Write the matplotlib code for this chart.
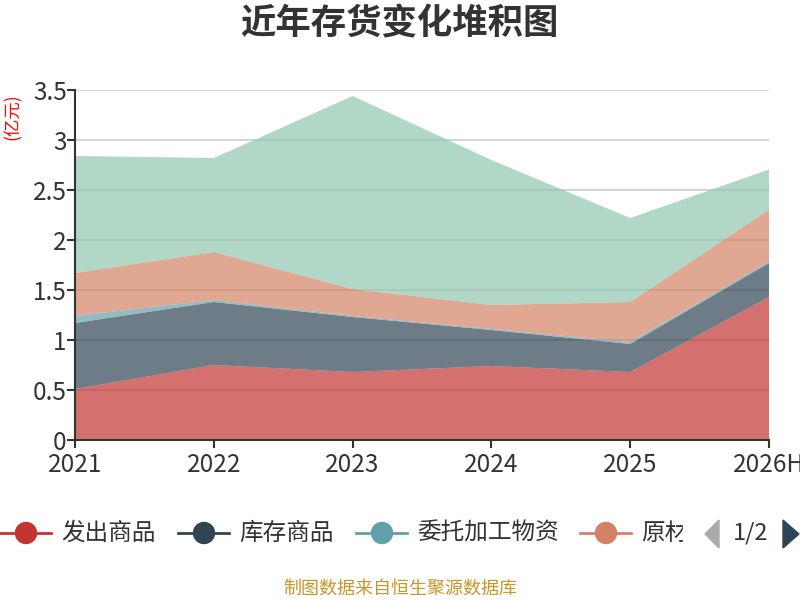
import matplotlib

matplotlib.use("Agg")
import matplotlib.pyplot as plt
from matplotlib.patches import Circle, Polygon, Rectangle
import numpy as np

plt.rcParams["font.family"] = ["Noto Sans CJK SC", "DejaVu Sans"]

# values (亿元)
years = ["2021", "2022", "2023", "2024", "2025", "2026H"]
fachu = [0.51, 0.75, 0.68, 0.74, 0.68, 1.43]        # 发出商品
kucun = [0.66, 0.63, 0.55, 0.36, 0.28, 0.34]        # 库存商品
weituo = [0.07, 0.02, 0.01, 0.01, 0.02, 0.015]      # 委托加工物资
yuancai = [0.43, 0.48, 0.27, 0.24, 0.40, 0.52]      # 原材料
zaichan = [1.17, 0.94, 1.93, 1.45, 0.84, 0.40]      # 在产品
series_names = ["发出商品", "库存商品", "委托加工物资", "原材料", "在产品"]
colors = ["#c23531", "#2f4554", "#61a0a8", "#d48265", "#91c7ae"]

fig = plt.figure(figsize=(8, 6), dpi=100)
ax = fig.add_axes([75 / 800, 160 / 600, 694 / 800, 350 / 600])

x = np.arange(len(years))
ax.stackplot(x, fachu, kucun, weituo, yuancai, zaichan,
             colors=colors, alpha=0.7, linewidth=0, zorder=2)

ax.set_xlim(0, len(years) - 1)
ax.set_ylim(0, 3.5)
ax.set_yticks(np.arange(0, 3.51, 0.5))
ax.set_yticklabels(["0", "0.5", "1", "1.5", "2", "2.5", "3", "3.5"])
ax.set_xticks(x)
ax.set_xticklabels(years)
ax.grid(axis="y", color="#cccccc", linewidth=1.2, zorder=1)
ax.set_axisbelow(True)
for side in ("top", "right"):
    ax.spines[side].set_visible(False)
for side in ("left", "bottom"):
    ax.spines[side].set_color("#333333")
    ax.spines[side].set_linewidth(1.5)
ax.tick_params(axis="both", colors="#333333", labelsize=17.5, length=6, width=1.5)
ax.tick_params(axis="x", pad=3)
ax.tick_params(axis="y", pad=0)

# overlay in pixel coordinates for title, legend and source text
ov = fig.add_axes([0, 0, 1, 1], zorder=5)
ov.set_xlim(0, 800)
ov.set_ylim(600, 0)
ov.axis("off")

ov.text(399, 24, "近年存货变化堆积图", ha="center", va="center",
        fontsize=25.5, fontweight="bold", color="#333333")
ov.text(13, 117, "(亿元)", ha="center", va="center", rotation=90,
        fontsize=12.5, color="red")

legend_x = [0, 178, 356, 580]
for lx, name, col in zip(legend_x, series_names[:4], colors[:4]):
    ov.plot([lx, lx + 51], [533, 533], color=col, linewidth=2)
    ov.add_patch(Circle((lx + 26, 533), 10.5, color=col))
    ov.text(lx + 61, 533, name, ha="left", va="center",
            fontsize=17, color="#333333")
# legend page is cut off at the pager
ov.add_patch(Rectangle((683, 505), 40, 60, color="white", zorder=6))

ov.add_patch(Polygon([[719, 520], [719, 548], [705, 534]], color="#aaaaaa", zorder=7))
ov.text(751, 533, "1/2", ha="center", va="center", fontsize=17, color="#333333", zorder=7)
ov.add_patch(Polygon([[783, 520], [783, 548], [799, 534]], color="#2f4554", zorder=7))

ov.text(400, 589, "制图数据来自恒生聚源数据库", ha="center", va="center",
        fontsize=13, color="#c8952a")

fig.savefig("out.png", dpi=100)
